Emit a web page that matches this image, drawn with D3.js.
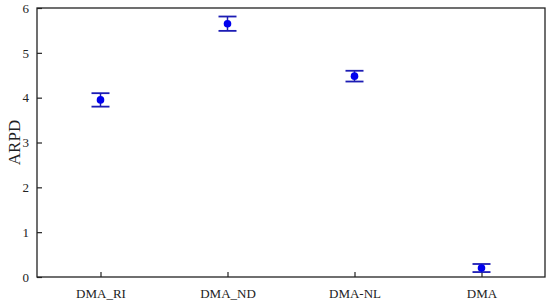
<!DOCTYPE html>
<html>
<head>
<meta charset="utf-8">
<script src="https://cdn.jsdelivr.net/npm/d3@7"></script>
<style>
  body { margin: 0; background: #fff; }
</style>
</head>
<body>
<div id="chart"></div>
<script>
const categories = ['DMA_RI', 'DMA_ND', 'DMA-NL', 'DMA'];
const means = [3.95, 5.65, 4.48, 0.2];
const lower = [3.8, 5.49, 4.36, 0.11];
const upper = [4.1, 5.81, 4.6, 0.29];
const yTicks = [0, 1, 2, 3, 4, 5, 6];

const serif = '"Liberation Serif", "Times New Roman", serif';
const width = 550;
const height = 301;
const margin = { top: 8, right: 5, bottom: 24, left: 37 };
const innerW = width - margin.left - margin.right;
const innerH = height - margin.top - margin.bottom;

const svg = d3.select('#chart')
  .append('svg')
  .attr('width', width)
  .attr('height', height);

const g = svg.append('g')
  .attr('transform', `translate(${margin.left},${margin.top})`);

const x = d3.scalePoint()
  .domain(categories)
  .range([0, innerW])
  .padding(0.5);

const y = d3.scaleLinear()
  .domain([0, 6])
  .range([innerH, 0]);

// frame
g.append('rect')
  .attr('width', innerW)
  .attr('height', innerH)
  .attr('fill', 'none')
  .attr('stroke', '#222')
  .attr('stroke-width', 1.3);

// y axis, ticks inside
const yAxis = g.append('g')
  .call(d3.axisLeft(y).tickValues(yTicks).tickSize(-5).tickPadding(14).tickFormat(d3.format('d')))
  .attr('font-family', serif);
yAxis.select('.domain').remove();
yAxis.selectAll('line').attr('stroke', '#222').attr('stroke-width', 1.2);
yAxis.selectAll('text').attr('font-size', 13).attr('fill', '#222').attr('text-anchor', 'end').attr('dx', 6);

// x axis, ticks inside
const xAxis = g.append('g')
  .attr('transform', `translate(0,${innerH})`)
  .call(d3.axisBottom(x).tickSize(-5).tickPadding(12))
  .attr('font-family', serif);
xAxis.select('.domain').remove();
xAxis.selectAll('line').attr('stroke', '#222').attr('stroke-width', 1.2);
xAxis.selectAll('text').attr('font-size', 13).attr('fill', '#222');

// y label
svg.append('text')
  .attr('transform', `translate(14,${margin.top + innerH / 2}) rotate(-90)`)
  .attr('text-anchor', 'middle')
  .attr('dy', '0.35em')
  .attr('font-family', serif)
  .attr('font-size', 17)
  .attr('fill', '#222')
  .text('ARPD');

const data = categories.map((c, i) => ({ c, m: means[i], lo: lower[i], hi: upper[i] }));
const capW = 9;
const errColor = '#1c1cb4';

const pts = g.selectAll('.pt')
  .data(data)
  .enter()
  .append('g')
  .attr('class', 'pt');

pts.append('line')
  .attr('x1', d => x(d.c)).attr('x2', d => x(d.c))
  .attr('y1', d => y(d.lo)).attr('y2', d => y(d.hi))
  .attr('stroke', errColor).attr('stroke-width', 1.5);

pts.append('line')
  .attr('x1', d => x(d.c) - capW).attr('x2', d => x(d.c) + capW)
  .attr('y1', d => y(d.hi)).attr('y2', d => y(d.hi))
  .attr('stroke', errColor).attr('stroke-width', 1.8);

pts.append('line')
  .attr('x1', d => x(d.c) - capW).attr('x2', d => x(d.c) + capW)
  .attr('y1', d => y(d.lo)).attr('y2', d => y(d.lo))
  .attr('stroke', errColor).attr('stroke-width', 1.8);

pts.append('circle')
  .attr('cx', d => x(d.c))
  .attr('cy', d => y(d.m))
  .attr('r', 3.8)
  .attr('fill', '#0000ee');
</script>
</body>
</html>
